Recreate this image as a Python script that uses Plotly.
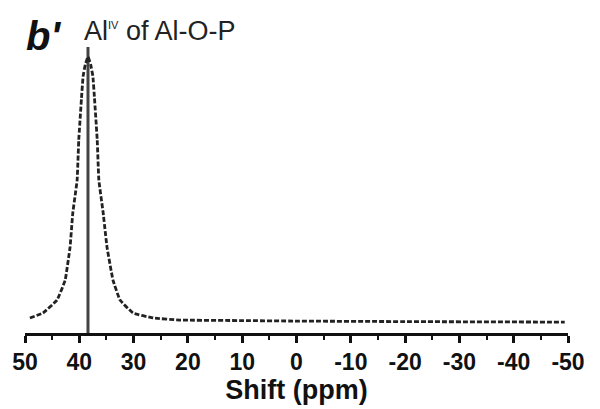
import plotly.graph_objects as go

# Spectrum points (shift in ppm, normalised intensity)
shift = [49.1, 46.7, 44.1, 42.6, 41.7, 41.2, 40.4, 40.1, 39.6, 39.3, 38.9, 38.4,
         37.9, 37.5, 37.2, 36.7, 36.4, 35.6, 34.9, 33.8, 32.5, 30.1, 26.4, 21.5,
         10.0, 0.0, -20.0, -49.4]
intensity = [0.012, 0.031, 0.081, 0.158, 0.286, 0.417, 0.544, 0.699, 0.86, 0.945, 0.99, 1.02,
             0.99, 0.945, 0.86, 0.699, 0.544, 0.417, 0.286, 0.158, 0.081, 0.031, 0.012, 0.004,
             0.002, 0.0, -0.002, -0.004]

# Peak marker line
peak_x = [38.4, 38.4]
peak_y = [-0.046, 1.058]

tick_vals = [50, 40, 30, 20, 10, 0, -10, -20, -30, -40, -50]
tick_text = [str(v) for v in tick_vals]

FONT = "Liberation Sans, Arial"

fig = go.Figure()
fig.add_trace(go.Scatter(x=peak_x, y=peak_y, mode="lines",
                         line=dict(color="#444444", width=3), showlegend=False))
fig.add_trace(go.Scatter(x=shift, y=intensity, mode="lines", line_shape="spline",
                         line=dict(color="#222222", width=2.8, dash="5px,2px", smoothing=0.25),
                         showlegend=False))

fig.update_layout(
    width=600, height=409,
    margin=dict(l=25, r=32, t=40, b=76),
    paper_bgcolor="white", plot_bgcolor="white",
    font=dict(family=FONT, color="#111111"),
    xaxis=dict(range=[50, -50], tickvals=tick_vals, ticktext=tick_text,
               showgrid=False, zeroline=False, showline=True, linecolor="#111111",
               linewidth=2.5, ticks="outside", ticklen=7, tickwidth=2.5,
               tickcolor="#111111",
               minor=dict(ticks="outside", dtick=5, ticklen=4, tickwidth=2,
                          tickcolor="#111111"),
               tickfont=dict(size=23, family=FONT, color="#111111", weight="bold"),
               title=dict(text="Shift (ppm)", standoff=2,
                          font=dict(size=27, family=FONT, color="#111111", weight="bold"))),
    yaxis=dict(range=[-0.046, 1.085], visible=False, showgrid=False, zeroline=False),
)

fig.add_annotation(xref="paper", yref="paper", x=(24 - 25) / 543, y=(333 - 36) / 293,
                   xanchor="left", yanchor="middle", showarrow=False,
                   text="<b><i>b'</i></b>", font=dict(size=40, color="#111111", family=FONT))
fig.add_annotation(xref="paper", yref="paper", x=(82 - 25) / 543, y=(333 - 31) / 293,
                   xanchor="left", yanchor="middle", showarrow=False,
                   text="Al<sup><span style='font-size:11px'>IV</span></sup> of Al-O-P",
                   font=dict(size=27, color="#222222", family=FONT))

fig.write_html("out.html")
